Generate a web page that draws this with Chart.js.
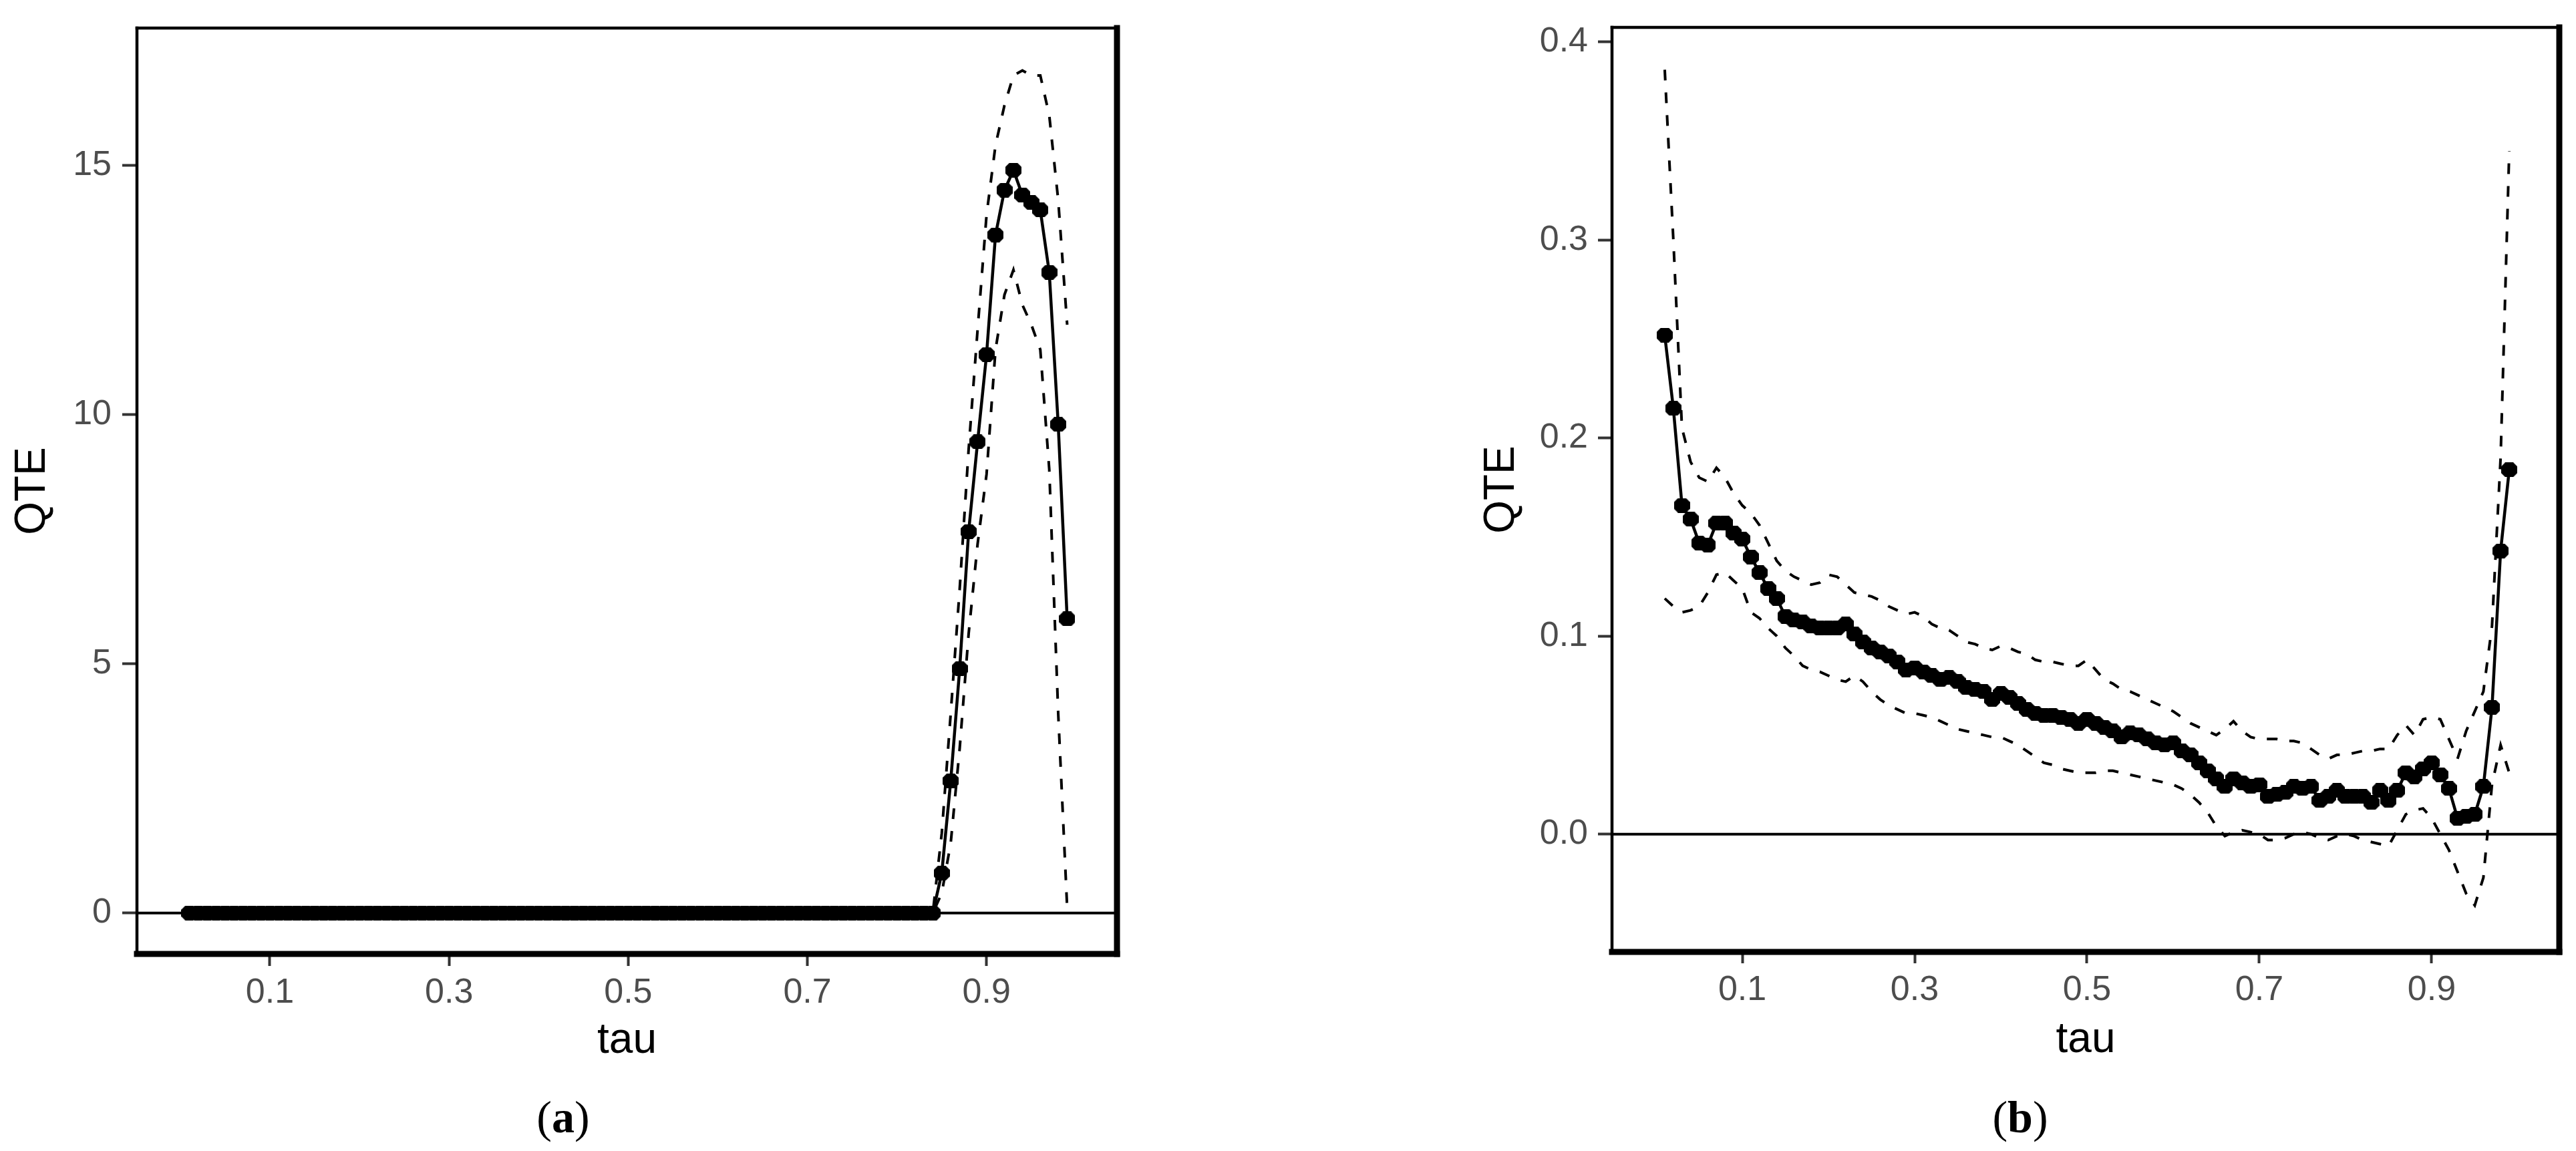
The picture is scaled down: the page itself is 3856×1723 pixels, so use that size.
<!DOCTYPE html>
<html lang="en">
<head>
  <meta charset="UTF-8">
  <title>QTE by tau</title>
  <script src="https://cdn.jsdelivr.net/npm/chart.js"></script>
  <style>
    body { margin: 0; background: #fff; width: 3856px; height: 1723px; position: relative; overflow: hidden; }
    canvas { position: absolute; top: 0; }
    .cap { position: absolute; top: 1638px; width: 300px; text-align: center;
           font-family: "Liberation Serif", "DejaVu Serif", serif; font-size: 68px; line-height: 68px; color: #000; }
  </style>
</head>
<body>
<canvas id="chartA" width="1760" height="1620" style="left:0px"></canvas>
<canvas id="chartB" width="1666" height="1620" style="left:2190px"></canvas>
<div class="cap" style="left:693px">(<b>a</b>)</div>
<div class="cap" style="left:2874px">(<b>b</b>)</div>

<script>
  // quantiles
  const tau = [
    0.01,0.02,0.03,0.04,0.05,0.06,0.07,0.08,0.09,0.10,
    0.11,0.12,0.13,0.14,0.15,0.16,0.17,0.18,0.19,0.20,
    0.21,0.22,0.23,0.24,0.25,0.26,0.27,0.28,0.29,0.30,
    0.31,0.32,0.33,0.34,0.35,0.36,0.37,0.38,0.39,0.40,
    0.41,0.42,0.43,0.44,0.45,0.46,0.47,0.48,0.49,0.50,
    0.51,0.52,0.53,0.54,0.55,0.56,0.57,0.58,0.59,0.60,
    0.61,0.62,0.63,0.64,0.65,0.66,0.67,0.68,0.69,0.70,
    0.71,0.72,0.73,0.74,0.75,0.76,0.77,0.78,0.79,0.80,
    0.81,0.82,0.83,0.84,0.85,0.86,0.87,0.88,0.89,0.90,
    0.91,0.92,0.93,0.94,0.95,0.96,0.97,0.98,0.99
  ];

  // panel (a): estimate and band (zero up to tau = 0.84)
  const qteA = [
    0,0,0,0,0,0,0,0,0,0,0,0, 0,0,0,0,0,0,0,0,0,0,0,0,
    0,0,0,0,0,0,0,0,0,0,0,0, 0,0,0,0,0,0,0,0,0,0,0,0,
    0,0,0,0,0,0,0,0,0,0,0,0, 0,0,0,0,0,0,0,0,0,0,0,0,
    0,0,0,0,0,0,0,0,0,0,0,0,
    0.8, 2.65, 4.9, 7.65, 9.45, 11.2, 13.6, 14.5, 14.9, 14.4, 14.25, 14.1, 12.85, 9.8, 5.9
  ];
  const upperA = [
    0,0,0,0,0,0,0,0,0,0,0,0, 0,0,0,0,0,0,0,0,0,0,0,0,
    0,0,0,0,0,0,0,0,0,0,0,0, 0,0,0,0,0,0,0,0,0,0,0,0,
    0,0,0,0,0,0,0,0,0,0,0,0, 0,0,0,0,0,0,0,0,0,0,0,0,
    0,0,0,0,0,0,0,0,0,0,0,0,
    1.6, 4.0, 6.5, 9.3, 11.7, 14.0, 15.4, 16.2, 16.8, 16.9, 16.8, 16.8, 16.0, 14.3, 11.8
  ];
  const lowerA = [
    0,0,0,0,0,0,0,0,0,0,0,0, 0,0,0,0,0,0,0,0,0,0,0,0,
    0,0,0,0,0,0,0,0,0,0,0,0, 0,0,0,0,0,0,0,0,0,0,0,0,
    0,0,0,0,0,0,0,0,0,0,0,0, 0,0,0,0,0,0,0,0,0,0,0,0,
    0,0,0,0,0,0,0,0,0,0,0,0,
    0.4, 1.4, 3.3, 5.6, 7.4, 8.8, 11.3, 12.4, 12.9, 12.2, 11.8, 11.3, 8.9, 4.0, 0.1
  ];

  // panel (b)
  const qteB = [
    0.252,0.215,0.166,0.159,0.147,0.146,0.157,0.157,0.152,0.149,
    0.140,0.132,0.124,0.119,0.110,0.108,0.107,0.105,0.104,0.104,
    0.104,0.106,0.101,0.097,0.094,0.092,0.090,0.087,0.083,0.084,
    0.082,0.080,0.078,0.079,0.077,0.074,0.073,0.072,0.068,0.071,
    0.069,0.066,0.063,0.061,0.060,0.060,0.059,0.058,0.056,0.058,
    0.056,0.054,0.052,0.049,0.051,0.050,0.048,0.046,0.045,0.046,
    0.042,0.040,0.036,0.032,0.028,0.024,0.028,0.026,0.024,0.025,
    0.019,0.020,0.021,0.024,0.023,0.024,0.017,0.019,0.022,0.019,
    0.019,0.019,0.016,0.022,0.017,0.022,0.031,0.029,0.033,0.036,
    0.030,0.023,0.008,0.009,0.010,0.024,0.064,0.143,0.184
  ];
  const upperB = [
    0.386,0.300,0.205,0.188,0.180,0.178,0.185,0.180,0.172,0.166,
    0.162,0.156,0.147,0.138,0.133,0.130,0.128,0.126,0.127,0.131,
    0.130,0.126,0.122,0.121,0.120,0.118,0.115,0.113,0.111,0.112,
    0.110,0.106,0.104,0.103,0.100,0.097,0.096,0.094,0.093,0.095,
    0.094,0.092,0.091,0.088,0.087,0.087,0.086,0.085,0.085,0.088,
    0.083,0.078,0.076,0.073,0.072,0.070,0.068,0.066,0.064,0.062,
    0.059,0.056,0.054,0.052,0.050,0.053,0.057,0.052,0.049,0.048,
    0.048,0.048,0.047,0.047,0.046,0.043,0.040,0.038,0.040,0.040,
    0.041,0.042,0.042,0.043,0.043,0.050,0.055,0.050,0.058,0.059,
    0.058,0.048,0.038,0.052,0.062,0.072,0.105,0.190,0.345
  ];
  const lowerB = [
    0.119,0.115,0.112,0.113,0.115,0.122,0.131,0.132,0.128,0.124,
    0.112,0.109,0.104,0.100,0.094,0.090,0.085,0.083,0.082,0.080,
    0.078,0.077,0.080,0.077,0.072,0.068,0.065,0.063,0.061,0.061,
    0.060,0.059,0.057,0.055,0.053,0.052,0.051,0.050,0.049,0.049,
    0.047,0.045,0.042,0.039,0.036,0.035,0.033,0.032,0.031,0.031,
    0.031,0.032,0.032,0.031,0.030,0.029,0.028,0.027,0.026,0.025,
    0.023,0.020,0.016,0.011,0.004,-0.001,0.001,0.002,0.001,0.000,
    -0.003,-0.003,-0.002,0.000,0.001,0.000,-0.002,-0.003,-0.001,0.000,
    -0.001,-0.003,-0.004,-0.005,-0.006,0.002,0.010,0.012,0.013,0.008,
    0.000,-0.008,-0.019,-0.030,-0.036,-0.022,0.025,0.045,0.031
  ];

  // ticks
  const xTicks = [0.1, 0.3, 0.5, 0.7, 0.9];
  const xTickLabels = ['0.1', '0.3', '0.5', '0.7', '0.9'];
  const yTicksA = [0, 5, 10, 15];
  const yTickLabelsA = ['0', '5', '10', '15'];
  const yTicksB = [0, 0.1, 0.2, 0.3, 0.4];
  const yTickLabelsB = ['0.0', '0.1', '0.2', '0.3', '0.4'];

  const FONT = '"Liberation Sans", Arial, sans-serif';

  function pts(xs, ys) {
    return xs.map((x, i) => ({ x: x, y: ys[i] }));
  }

  // blocky marker like the low-res R device output (flat top, so neighbours merge)
  function makeMarker() {
    const c = document.createElement('canvas');
    c.width = 24; c.height = 22;
    const g = c.getContext('2d');
    g.fillStyle = '#000';
    g.beginPath();
    g.moveTo(6, 0); g.lineTo(18, 0); g.lineTo(24, 6); g.lineTo(24, 16);
    g.lineTo(18, 22); g.lineTo(6, 22); g.lineTo(0, 16); g.lineTo(0, 6);
    g.closePath();
    g.fill();
    return c;
  }
  const marker = makeMarker();

  // panel frame: thin left/top, heavy right/bottom
  const boxPlugin = {
    id: 'box',
    afterDraw(chart) {
      const { ctx, chartArea: a } = chart;
      const seg = (x1, y1, x2, y2, w) => {
        ctx.lineWidth = w;
        ctx.beginPath(); ctx.moveTo(x1, y1); ctx.lineTo(x2, y2); ctx.stroke();
      };
      ctx.save();
      ctx.strokeStyle = '#000';
      ctx.lineCap = 'square';
      seg(a.left, a.top, a.right, a.top, 4.5);
      seg(a.left, a.top, a.left, a.bottom, 4.5);
      seg(a.right, a.top, a.right, a.bottom, 9);
      seg(a.left, a.bottom, a.right, a.bottom, 9);
      ctx.restore();
    }
  };

  function buildChart(id, c) {
    return new Chart(document.getElementById(id), {
      type: 'line',
      data: {
        datasets: [
          { data: pts(tau, c.qte), borderColor: '#000', borderWidth: 4.5,
            pointStyle: marker, pointRadius: 12, pointHoverRadius: 12 },
          { data: pts(tau, c.upper), borderColor: '#000', borderWidth: 4, borderDash: [16, 18], pointRadius: 0 },
          { data: pts(tau, c.lower), borderColor: '#000', borderWidth: 4, borderDash: [16, 18], pointRadius: 0 },
          { data: [{ x: c.xMin, y: 0 }, { x: c.xMax, y: 0 }], borderColor: '#000', borderWidth: 4, pointRadius: 0 }
        ]
      },
      options: {
        responsive: false,
        animation: false,
        events: [],
        layout: { padding: { left: 0, top: c.top, right: c.right, bottom: 0 } },
        plugins: { legend: { display: false }, tooltip: { enabled: false } },
        scales: {
          x: {
            type: 'linear', min: c.xMin, max: c.xMax,
            afterBuildTicks: s => { s.ticks = xTicks.map(v => ({ value: v })); },
            afterFit: s => { s.height = c.xAxisH; },
            border: { display: false },
            grid: { drawOnChartArea: false, drawTicks: true, tickLength: c.xTickLen, tickWidth: 4, tickColor: '#333' },
            ticks: { autoSkip: false, maxRotation: 0, padding: 15, color: '#4d4d4d',
                     font: { family: FONT, size: 52, lineHeight: 1 },
                     callback: (v, i) => xTickLabels[i] },
            title: { display: true, text: 'tau', color: '#000',
                     font: { family: FONT, size: 64, lineHeight: 1 }, padding: { top: 0, bottom: c.tauPad } }
          },
          y: {
            type: 'linear', min: c.yMin, max: c.yMax,
            afterBuildTicks: s => { s.ticks = c.yTicks.map(v => ({ value: v })); },
            afterFit: s => { s.width = c.yAxisW; },
            border: { display: false },
            grid: { drawOnChartArea: false, drawTicks: true, tickLength: c.yTickLen, tickWidth: 4, tickColor: '#333' },
            ticks: { autoSkip: false, padding: c.yTickPad, color: '#4d4d4d',
                     font: { family: FONT, size: 52, lineHeight: 1 },
                     callback: (v, i) => c.yLabels[i] },
            title: { display: true, text: 'QTE', color: '#000',
                     font: { family: FONT, size: 64, lineHeight: 1 }, padding: { top: c.qtePad, bottom: 0 } }
          }
        }
      },
      plugins: [boxPlugin]
    });
  }

  buildChart('chartA', {
    qte: qteA, upper: upperA, lower: lowerA,
    xMin: -0.0484, xMax: 1.0456, yMin: -0.82, yMax: 17.75,
    yTicks: yTicksA, yLabels: yTickLabelsA,
    top: 24, right: 88, yAxisW: 205, xAxisH: 192,
    xTickLen: 18, yTickLen: 22, yTickPad: 16, tauPad: 30, qtePad: 17
  });

  buildChart('chartB', {
    qte: qteB, upper: upperB, lower: lowerB,
    xMin: -0.0512, xMax: 1.0481, yMin: -0.0595, yMax: 0.4074,
    yTicks: yTicksB, yLabels: yTickLabelsB,
    top: 28, right: 25, yAxisW: 223, xAxisH: 195,
    xTickLen: 17, yTickLen: 21, yTickPad: 15, tauPad: 31, qtePad: 26
  });
</script>
</body>
</html>
